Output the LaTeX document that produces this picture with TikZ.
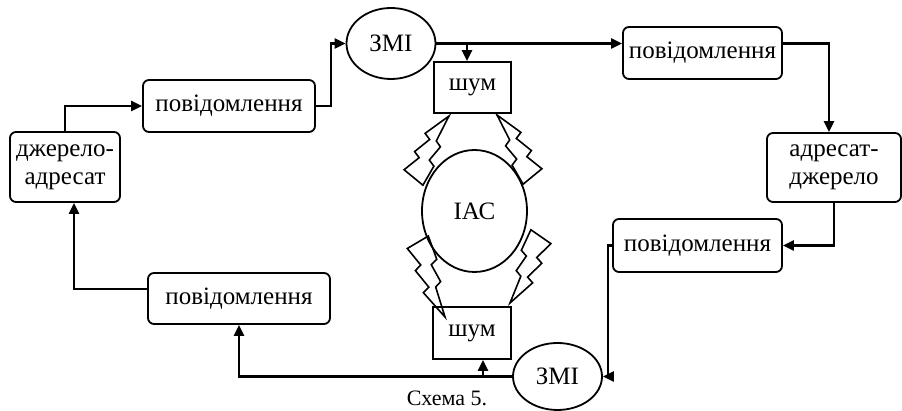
\documentclass[tikz,border=0pt]{standalone}
\usepackage{fontspec}
\setmainfont{Liberation Serif}
\usetikzlibrary{shapes.geometric, arrows.meta, calc}

\tikzset{
  msgbox/.style={draw, rounded corners=3pt, inner sep=0pt, line width=0.9pt},
  media/.style={draw, ellipse, inner sep=0pt, line width=0.9pt},
  noise/.style={draw, rectangle, inner sep=0pt, line width=0.9pt},
  arr/.style={line width=1.1pt, -{Triangle[length=5.5pt, width=5pt]}},
  bolt/.pic={
    \draw[line width=0.8pt, line join=miter]
      (0,0) -- (27,-12) -- (30,-5) -- (48,-12) -- (51,-5) -- (69,-12)
      -- (73,12) -- (51,12) -- (48,5) -- (31,8) -- (28,1.5) -- cycle;
  }
}

\begin{document}
\begin{tikzpicture}[x=0.5pt, y=0.5pt, font=\fontsize{12.5}{14}\selectfont]
  \useasboundingbox (0,0) rectangle (902,411);

  \node[media, minimum width=44.5pt, minimum height=35.5pt] (zmiT) at (391,367.5) {ЗМІ};
  \node[noise, minimum width=38.5pt, minimum height=25.5pt] (shumT) at (472.5,323.5) {шум};
  \node[media, minimum width=52.5pt, minimum height=61pt] (iac) at (474.5,200) {ІАС};
  \node[noise, minimum width=39pt, minimum height=26pt] (shumB) at (472,78) {шум};
  \node[media, minimum width=44.5pt, minimum height=33.5pt] (zmiB) at (557.5,34.5) {ЗМІ};

  \node[msgbox, minimum width=86pt, minimum height=26pt] (msgA) at (229,305) {повідомлення};
  \node[msgbox, minimum width=79.5pt, minimum height=26pt] (msgB) at (702.5,358) {повідомлення};
  \node[msgbox, minimum width=84.5pt, minimum height=26.5pt] (msgC) at (697.5,165.5) {повідомлення};
  \node[msgbox, minimum width=91pt, minimum height=25.5pt] (msgD) at (239,112.5) {повідомлення};
  \node[msgbox, minimum width=55pt, minimum height=35pt, align=center] (srcA) at (65,244) {джерело-\\адресат};
  \node[msgbox, minimum width=67pt, minimum height=34.5pt, align=center] (srcB) at (834,243.5) {адресат-\\джерело};

  \node[font=\fontsize{11}{13}\selectfont] (cap) at (447,13) {Схема 5.};

  % bends of the connectors
  \coordinate (bendA) at (331,305);
  \coordinate (bendB) at (829,367.5);
  \coordinate (bendC) at (608,165.5);
  \coordinate (bendD) at (74,122);
  \coordinate (tapT) at (467,367.5);
  \coordinate (tapB) at (483,34.5);

  \draw[arr] (srcA.north) |- (msgA.west);
  \draw[arr] (msgA.east) -- (bendA) |- (zmiT.west);
  \draw[arr] (zmiT.east) -- (zmiT.east -| msgB.west);
  \draw[arr] (tapT) -- (tapT |- shumT.north);
  \draw[arr] (zmiT.east -| msgB.east) -- (bendB) -- (bendB |- srcB.north);
  \draw[arr] (srcB.south) |- (msgC.east);
  \draw[arr] (msgC.west) -- (bendC) |- (zmiB.east);
  \draw[arr] (zmiB.west) -| (msgD.south);
  \draw[arr] (tapB) -- (tapB |- shumB.south);
  \draw[arr] (msgD.west |- bendD) -- (bendD) -- (bendD |- srcA.south);

  % lightning between noise and IAC
  \pic[rotate=240] at (449,295) {bolt};
  \pic[rotate=300, yscale=-1] at (497,296) {bolt};
  \pic[rotate=110, xscale=1.12, yscale=-1] at (445,94) {bolt};
  \pic[rotate=65, xscale=1.03] at (510,108) {bolt};
\end{tikzpicture}
\end{document}
